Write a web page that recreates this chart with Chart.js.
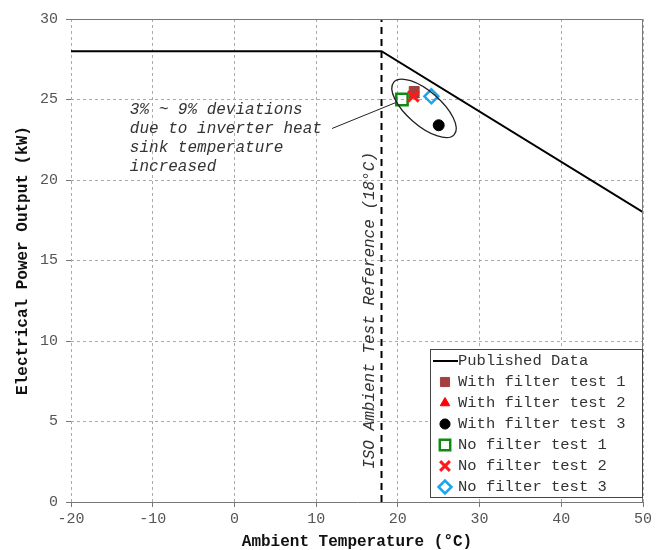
<!DOCTYPE html>
<html>
<head>
<meta charset="utf-8">
<script src="https://cdn.jsdelivr.net/npm/chart.js@4"></script>
<style>
  html, body { margin: 0; padding: 0; background: #fff; }
</style>
</head>
<body>
<canvas id="powerChart" width="669" height="550"></canvas>
<script>
// Published rating curve
const publishedTemps = [-20, 18, 50];
const publishedPower = [28, 28, 18];

// Field test points
const testNames = ['With filter test 1', 'With filter test 2', 'With filter test 3',
                   'No filter test 1', 'No filter test 2', 'No filter test 3'];
const testTemps = [22, 22, 25, 20.5, 21.9, 24.1];
const testPower = [25.5, 25.3, 23.4, 25.0, 25.2, 25.2];

// ISO reference temperature
const isoTemp = 18;
const powerRange = [0, 30];

const MONO = '"Liberation Mono", "DejaVu Sans Mono", monospace';

// marker look for each test series
const markerStyles = [
  { pointStyle: 'rect',     bg: '#a3403e', border: '#a3403e', bw: 1,   r: 7,   order: 3 },
  { pointStyle: 'triangle', bg: '#ff0000', border: '#ff0000', bw: 1,   r: 6,   order: 4 },
  { pointStyle: 'circle',   bg: '#000000', border: '#000000', bw: 1,   r: 5.5, order: 5 },
  { pointStyle: 'rect',     bg: 'rgba(255,255,255,0)', border: '#118a11', bw: 2.5, r: 8, order: 2 },
  { pointStyle: 'crossRot', bg: '#ff1a1a', border: '#ff1a1a', bw: 3,   r: 7.5, order: 0 },
  { pointStyle: 'rectRot',  bg: 'rgba(255,255,255,0)', border: '#1aa5ef', bw: 2.5, r: 7, order: 1 }
];

const datasets = [
  {
    label: 'Published Data',
    data: publishedTemps.map((t, i) => ({ x: t, y: publishedPower[i] })),
    showLine: true, borderColor: '#000', borderWidth: 2, pointRadius: 0, order: 10
  },
  {
    label: 'ISO reference',
    data: powerRange.map(p => ({ x: isoTemp, y: p })),
    showLine: true, borderColor: '#000', borderWidth: 2, borderDash: [7, 5], pointRadius: 0, order: 11
  }
];

testNames.forEach((name, i) => {
  const s = markerStyles[i];
  datasets.push({
    label: name,
    data: [{ x: testTemps[i], y: testPower[i] }],
    pointStyle: s.pointStyle,
    pointRadius: s.r,
    pointBackgroundColor: s.bg,
    pointBorderColor: s.border,
    pointBorderWidth: s.bw,
    order: s.order
  });
});

// ellipse, connector, notes, box and legend
const decorations = {
  id: 'decorations',
  afterDatasetsDraw(chart) {
    const { ctx, chartArea: a, scales: { x, y } } = chart;
    ctx.save();

    // top + right frame
    ctx.strokeStyle = '#777';
    ctx.lineWidth = 1;
    ctx.beginPath();
    ctx.moveTo(a.left, a.top + 0.5);
    ctx.lineTo(a.right - 0.5, a.top + 0.5);
    ctx.lineTo(a.right - 0.5, a.bottom);
    ctx.stroke();

    // ellipse around the test points
    ctx.strokeStyle = '#222';
    ctx.lineWidth = 1.3;
    ctx.beginPath();
    ctx.ellipse(x.getPixelForValue(23.2), y.getPixelForValue(24.45), 40, 17, 41 * Math.PI / 180, 0, Math.PI * 2);
    ctx.stroke();

    // connector line to note
    ctx.lineWidth = 1;
    ctx.beginPath();
    ctx.moveTo(x.getPixelForValue(11.95), y.getPixelForValue(23.2));
    ctx.lineTo(x.getPixelForValue(19.7), y.getPixelForValue(24.8));
    ctx.stroke();

    // note text
    ctx.fillStyle = '#333';
    ctx.font = 'italic 16px ' + MONO;
    ctx.textAlign = 'left';
    ctx.textBaseline = 'middle';
    const noteLines = ['3% ~ 9% deviations', 'due to inverter heat', 'sink temperature', 'increased'];
    const nx = x.getPixelForValue(-12.8);
    const ny = y.getPixelForValue(24.35);
    noteLines.forEach((t, i) => ctx.fillText(t, nx, ny + i * 18.8));

    // rotated ISO label
    ctx.save();
    ctx.translate(x.getPixelForValue(isoTemp) - 12, y.getPixelForValue(11.9));
    ctx.rotate(-Math.PI / 2);
    ctx.textAlign = 'center';
    ctx.fillText('ISO Ambient Test Reference (18\u00B0C)', 0, 0);
    ctx.restore();

    // legend
    const lw = 212, lh = 148;
    const lx = a.right - lw - 1, ly = a.bottom - lh - 5;
    ctx.fillStyle = '#fff';
    ctx.fillRect(lx, ly, lw, lh);
    ctx.strokeStyle = '#444';
    ctx.lineWidth = 1;
    ctx.strokeRect(lx + 0.5, ly + 0.5, lw, lh);

    ctx.font = '15.5px ' + MONO;
    ctx.textBaseline = 'middle';
    const rowY = i => ly + 12 + i * 21;
    const mx = lx + 15, tx = lx + 28;

    ctx.strokeStyle = '#000';
    ctx.lineWidth = 2;
    ctx.beginPath();
    ctx.moveTo(lx + 3, rowY(0));
    ctx.lineTo(tx, rowY(0));
    ctx.stroke();
    ctx.fillStyle = '#333';
    ctx.fillText('Published Data', tx, rowY(0));

    testNames.forEach((name, i) => {
      const s = markerStyles[i];
      ctx.fillStyle = s.bg;
      ctx.strokeStyle = s.border;
      ctx.lineWidth = s.bw;
      Chart.helpers.drawPoint(ctx, { pointStyle: s.pointStyle, radius: s.r * 0.92, rotation: 0, borderWidth: s.bw }, mx, rowY(i + 1));
      ctx.fillStyle = '#333';
      ctx.fillText(name, tx, rowY(i + 1));
    });

    ctx.restore();
  }
};

const ctx = document.getElementById('powerChart').getContext('2d');
const powerChart = new Chart(ctx, {
  type: 'scatter',
  data: { datasets: datasets },
  options: {
    responsive: false,
    animation: false,
    layout: { padding: { top: 19, right: 26, left: 0, bottom: 0 } },
    plugins: {
      legend: { display: false },
      tooltip: { enabled: false }
    },
    scales: {
      x: {
        type: 'linear', min: -20, max: 50,
        ticks: { stepSize: 10, color: '#555', padding: 3, font: { family: MONO, size: 15 } },
        grid: { color: '#aaa', tickLength: 5, tickColor: '#777' },
        border: { color: '#777', dash: [3, 3] },
        title: {
          display: true, text: 'Ambient Temperature (\u00B0C)', color: '#111',
          font: { family: MONO, size: 16, weight: 'bold', lineHeight: 1 }, padding: { top: 0, bottom: 0 }
        },
        afterFit: s => { s.height = 48; }
      },
      y: {
        type: 'linear', min: 0, max: 30,
        ticks: { stepSize: 5, color: '#555', padding: 8, font: { family: MONO, size: 15 } },
        grid: { color: '#aaa', tickLength: 5, tickColor: '#777' },
        border: { display: false, dash: [3, 3] },
        title: {
          display: true, text: 'Electrical Power Output (kW)', color: '#111',
          font: { family: MONO, size: 16, weight: 'bold', lineHeight: 1 }, padding: { top: 15, bottom: 0 }
        },
        afterFit: s => { s.width = 71; }
      }
    }
  },
  plugins: [decorations]
});
</script>
</body>
</html>
